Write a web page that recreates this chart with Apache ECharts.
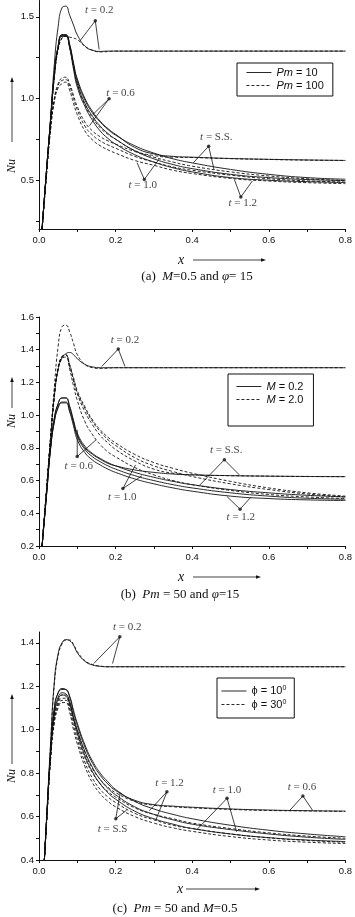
<!DOCTYPE html>
<html><head><meta charset="utf-8">
<script src="https://cdn.jsdelivr.net/npm/echarts@6/dist/echarts.min.js"></script>
<style>html,body{margin:0;padding:0;background:#fff}#c{width:355px;height:917px}</style>
</head><body><div id="c"></div>
<script>
// ---------- data ----------
const X_A = [0.008,0.02,0.03,0.04,0.05,0.06,0.07,0.08,0.09,0.10,0.12,0.14,0.16,0.18,0.20,0.25,0.30,0.35,0.40,0.50,0.60,0.70,0.80];
const X_B = [0.008,0.02,0.03,0.04,0.05,0.06,0.07,0.08,0.09,0.10,0.12,0.14,0.16,0.18,0.20,0.25,0.30,0.35,0.40,0.50,0.60,0.70,0.80];
const X_C = [0.014,0.02,0.03,0.04,0.05,0.06,0.07,0.08,0.09,0.10,0.12,0.14,0.16,0.18,0.20,0.25,0.30,0.35,0.40,0.50,0.60,0.70,0.80];

// panel (a): M=0.5, phi=15 ; solid Pm=10, dashed Pm=100
const A_T02_PM10  = [0.2,0.57,0.87,1.21,1.44,1.555,1.565,1.51,1.45,1.39,1.32,1.295,1.288,1.29,1.29,1.29,1.29,1.29,1.29,1.29,1.29,1.29,1.29];
const A_T02_PM100 = [0.2,0.56,0.85,1.13,1.30,1.37,1.38,1.375,1.37,1.36,1.32,1.295,1.285,1.287,1.29,1.29,1.29,1.29,1.29,1.29,1.29,1.29,1.29];
const A_T06_PM10  = [0.2,0.57,0.86,1.15,1.32,1.39,1.39,1.33,1.21,1.12,1.0,0.92,0.86,0.815,0.78,0.70,0.66,0.645,0.64,0.632,0.627,0.623,0.62];
const A_SS_PM10   = [0.2,0.57,0.86,1.15,1.32,1.39,1.39,1.33,1.22,1.11,0.99,0.91,0.855,0.81,0.775,0.71,0.665,0.63,0.605,0.565,0.535,0.515,0.505];
const A_T10_PM10  = [0.2,0.57,0.86,1.15,1.32,1.385,1.385,1.32,1.2,1.09,0.97,0.89,0.83,0.785,0.75,0.68,0.63,0.595,0.57,0.535,0.515,0.503,0.497];
const A_T12_PM10  = [0.2,0.57,0.86,1.14,1.31,1.38,1.38,1.31,1.18,1.07,0.95,0.865,0.80,0.755,0.72,0.655,0.61,0.575,0.55,0.515,0.499,0.49,0.485];
const A_T06_PM100 = [0.2,0.56,0.85,1.13,1.30,1.37,1.385,1.31,1.19,1.09,0.96,0.88,0.82,0.78,0.75,0.68,0.65,0.64,0.638,0.631,0.626,0.622,0.62];
const A_SS_PM100  = [0.2,0.55,0.82,1.0,1.09,1.125,1.13,1.09,1.02,0.95,0.855,0.80,0.765,0.74,0.72,0.675,0.64,0.61,0.585,0.55,0.525,0.508,0.497];
const A_T10_PM100 = [0.2,0.55,0.81,0.99,1.08,1.11,1.115,1.075,1.0,0.93,0.83,0.775,0.74,0.715,0.695,0.645,0.61,0.58,0.56,0.53,0.508,0.495,0.488];
const A_T12_PM100 = [0.2,0.54,0.80,0.98,1.065,1.09,1.10,1.05,0.97,0.90,0.80,0.745,0.71,0.685,0.665,0.62,0.59,0.56,0.54,0.51,0.494,0.484,0.478];

// panel (b): Pm=50, phi=15 ; solid M=0.2, dashed M=2.0
const B_T02_M02 = [0.2,0.55,0.85,1.12,1.28,1.35,1.375,1.383,1.37,1.345,1.31,1.295,1.29,1.29,1.29,1.29,1.29,1.29,1.29,1.29,1.29,1.29,1.29];
const B_T02_M2  = [0.2,0.55,0.86,1.17,1.42,1.54,1.55,1.51,1.44,1.37,1.31,1.29,1.285,1.287,1.29,1.29,1.29,1.29,1.29,1.29,1.29,1.29,1.29];
const B_T06_M2  = [0.2,0.55,0.85,1.12,1.29,1.355,1.365,1.30,1.21,1.13,1.02,0.94,0.875,0.83,0.79,0.72,0.67,0.645,0.635,0.63,0.627,0.625,0.624];
const B_SS_M2   = [0.2,0.55,0.85,1.12,1.29,1.36,1.37,1.31,1.23,1.15,1.05,0.97,0.91,0.865,0.83,0.76,0.71,0.675,0.645,0.595,0.555,0.525,0.505];
const B_T10_M2  = [0.2,0.55,0.85,1.12,1.29,1.355,1.365,1.305,1.22,1.14,1.04,0.96,0.90,0.85,0.815,0.74,0.69,0.655,0.625,0.58,0.545,0.518,0.50];
const B_T12_M2  = [0.2,0.55,0.84,1.11,1.28,1.345,1.355,1.28,1.18,1.09,0.96,0.88,0.82,0.775,0.745,0.68,0.635,0.60,0.575,0.54,0.515,0.50,0.49];
const B_T06_M02 = [0.2,0.53,0.80,0.98,1.07,1.105,1.105,1.05,0.96,0.88,0.80,0.76,0.73,0.705,0.69,0.665,0.65,0.64,0.635,0.63,0.627,0.625,0.624];
const B_SS_M02  = [0.2,0.53,0.80,0.98,1.07,1.105,1.105,1.055,0.97,0.89,0.81,0.765,0.735,0.71,0.69,0.65,0.62,0.595,0.575,0.545,0.525,0.51,0.50];
const B_T10_M02 = [0.2,0.52,0.79,0.96,1.05,1.08,1.08,1.03,0.95,0.87,0.79,0.745,0.715,0.69,0.67,0.63,0.60,0.575,0.555,0.525,0.505,0.492,0.486];
const B_T12_M02 = [0.2,0.52,0.79,0.96,1.045,1.075,1.075,1.02,0.935,0.85,0.77,0.725,0.695,0.67,0.65,0.61,0.58,0.555,0.535,0.505,0.49,0.482,0.478];

// panel (c): Pm=50, M=0.5 ; solid phi=10, dashed phi=30
const C_T02_P10 = [0.4,0.60,0.93,1.22,1.35,1.40,1.415,1.41,1.39,1.355,1.315,1.298,1.292,1.29,1.29,1.29,1.29,1.29,1.29,1.29,1.29,1.29,1.29];
const C_T02_P30 = [0.4,0.59,0.92,1.21,1.34,1.395,1.412,1.413,1.393,1.36,1.318,1.30,1.293,1.29,1.29,1.29,1.29,1.29,1.29,1.29,1.29,1.29,1.29];
const C_T06_P10 = [0.4,0.59,0.89,1.10,1.17,1.185,1.185,1.15,1.08,1.02,0.92,0.845,0.79,0.75,0.72,0.675,0.655,0.648,0.643,0.635,0.63,0.627,0.625];
const C_SS_P10  = [0.4,0.59,0.89,1.10,1.17,1.19,1.185,1.155,1.09,1.03,0.93,0.855,0.80,0.76,0.725,0.67,0.635,0.61,0.59,0.56,0.537,0.52,0.507];
const C_T10_P10 = [0.4,0.59,0.88,1.08,1.15,1.17,1.165,1.13,1.06,1.0,0.90,0.825,0.77,0.73,0.70,0.645,0.61,0.585,0.565,0.54,0.52,0.505,0.495];
const C_T12_P10 = [0.4,0.59,0.88,1.07,1.14,1.16,1.155,1.12,1.05,0.985,0.88,0.805,0.75,0.71,0.68,0.625,0.59,0.565,0.545,0.52,0.503,0.492,0.485];
const C_T06_P30 = [0.4,0.58,0.87,1.06,1.13,1.16,1.16,1.125,1.055,0.995,0.895,0.82,0.77,0.735,0.71,0.67,0.652,0.645,0.64,0.633,0.628,0.626,0.624];
const C_SS_P30  = [0.4,0.58,0.87,1.05,1.12,1.145,1.145,1.11,1.04,0.975,0.87,0.80,0.75,0.715,0.69,0.64,0.61,0.59,0.57,0.545,0.525,0.51,0.50];
const C_T10_P30 = [0.4,0.58,0.86,1.04,1.11,1.135,1.135,1.095,1.02,0.955,0.85,0.775,0.725,0.69,0.665,0.615,0.585,0.56,0.545,0.52,0.502,0.49,0.482];
const C_T12_P30 = [0.4,0.58,0.86,1.03,1.10,1.125,1.125,1.08,1.0,0.935,0.83,0.755,0.705,0.67,0.645,0.60,0.57,0.548,0.532,0.508,0.492,0.482,0.476];

// tick values
const X_LABELS = [0,0.2,0.4,0.6,0.8];
const X_TICKS = [0,0.1,0.2,0.3,0.4,0.5,0.6,0.7,0.8];
const A_Y_LABELS = [0.5,1.0,1.5];
const A_Y_TICKS = [0.25,0.5,0.75,1.0,1.25,1.5];
const B_Y_LABELS = [0.2,0.4,0.6,0.8,1.0,1.2,1.4,1.6];
const B_Y_TICKS = [0.2,0.3,0.4,0.5,0.6,0.7,0.8,0.9,1.0,1.1,1.2,1.3,1.4,1.5,1.6];
const C_Y_LABELS = [0.4,0.6,0.8,1.0,1.2,1.4];
const C_Y_TICKS = [0.4,0.5,0.6,0.7,0.8,0.9,1.0,1.1,1.2,1.3,1.4];

// annotations (data coordinates)
const A_NOTES = [['t = 0.2',0.157,1.54],['t = 0.6',0.213,1.033],['t = S.S.',0.463,0.765],['t = 1.0',0.271,0.468],['t = 1.2',0.532,0.358]];
const A_ARROWS = [
  [[0.106,1.35],[0.147,1.476],[0.157,1.30]],
  [[0.140,0.90],[0.183,0.998],[0.132,0.833]],
  [[0.403,0.606],[0.443,0.707],[0.457,0.565]],
  [[0.256,0.606],[0.275,0.504],[0.314,0.63]],
  [[0.510,0.504],[0.527,0.396],[0.557,0.494]]
];
const B_NOTES = [['t = 0.2',0.2245,1.457],['t = 0.6',0.104,0.686],['t = S.S.',0.4886,0.788],['t = 1.0',0.2176,0.498],['t = 1.2',0.527,0.379]];
const B_ARROWS = [
  [[0.164,1.298],[0.207,1.404],[0.2245,1.298]],
  [[0.0998,0.91],[0.0998,0.747],[0.149,0.849]],
  [[0.42,0.573],[0.484,0.727],[0.523,0.635]],
  [[0.252,0.696],[0.219,0.551],[0.269,0.63]],
  [[0.491,0.502],[0.525,0.425],[0.553,0.498]]
];
const C_NOTES = [['t = 0.2',0.2305,1.471],['t = 1.2',0.341,0.756],['t = 1.0',0.491,0.722],['t = 0.6',0.6865,0.734],['t = S.S',0.192,0.541]];
const C_ARROWS = [
  [[0.143,1.305],[0.211,1.428],[0.192,1.305]],
  [[0.288,0.627],[0.334,0.714],[0.305,0.584]],
  [[0.411,0.538],[0.491,0.684],[0.516,0.53]],
  [[0.654,0.627],[0.689,0.695],[0.715,0.627]],
  [[0.212,0.71],[0.2005,0.59],[0.229,0.63]]
];

// ---------- chart ----------
const SANS = '"Liberation Sans", Arial, sans-serif';
const SERIF = '"Liberation Serif", "Times New Roman", serif';
const INK = '#111';
const zip = (xs, ys) => xs.map((x, i) => [x, ys[i]]);

const panels = [
  { x: X_A, yMin: 0.2, yMax: 1.6, yLabels: A_Y_LABELS, yTicks: A_Y_TICKS, grid: {left: 39, right: 6, top: 0.5, bottom: 688},
    names: ['Pm = 10', 'Pm = 100'],
    curves: [[A_T02_PM10,0],[A_T02_PM100,1],[A_T06_PM10,0],[A_SS_PM10,0],[A_T10_PM10,0],[A_T12_PM10,0],[A_T06_PM100,1],[A_SS_PM100,1],[A_T10_PM100,1],[A_T12_PM100,1]],
    notes: A_NOTES, arrows: A_ARROWS,
    legend: {left: 237, top: 63, padding: [4, 9, 5, 9]} },
  { x: X_B, yMin: 0.2, yMax: 1.6, yLabels: B_Y_LABELS, yTicks: B_Y_TICKS, grid: {left: 39, right: 6, top: 317, bottom: 371},
    names: ['M = 0.2', 'M = 2.0'],
    curves: [[B_T02_M02,0],[B_T02_M2,1],[B_T06_M02,0],[B_SS_M02,0],[B_T10_M02,0],[B_T12_M02,0],[B_T06_M2,1],[B_SS_M2,1],[B_T10_M2,1],[B_T12_M2,1]],
    notes: B_NOTES, arrows: B_ARROWS,
    legend: {left: 228, top: 374, padding: [7, 10, 21, 8]} },
  { x: X_C, yMin: 0.4, yMax: 1.45, yLabels: C_Y_LABELS, yTicks: C_Y_TICKS, grid: {left: 39, right: 6, top: 632, bottom: 57},
    names: ['ϕ = 10', 'ϕ = 30'],
    curves: [[C_T02_P10,0],[C_T02_P30,1],[C_T06_P10,0],[C_SS_P10,0],[C_T10_P10,0],[C_T12_P10,0],[C_T06_P30,1],[C_SS_P30,1],[C_T10_P30,1],[C_T12_P30,1]],
    notes: C_NOTES, arrows: C_ARROWS,
    legend: {left: 217, top: 678, padding: [7, 8, 8, 4]} }
];

function legendFmt(name) {
  const parts = name.split(' = ');
  if (parts[0] === 'ϕ') return '{n|ϕ = ' + parts[1] + '}{s|0}';
  return '{i|' + parts[0] + '}{n| = ' + parts[1] + '}';
}

const grids = [], xAxes = [], yAxes = [], series = [], legends = [];
panels.forEach((p, gi) => {
  grids.push(Object.assign({containLabel: false}, p.grid));
  xAxes.push({
    type: 'value', gridIndex: gi, min: 0, max: 0.8,
    axisLine: {show: true, onZero: false, lineStyle: {color: INK, width: 1}},
    axisTick: {show: true, length: 3, customValues: X_TICKS, lineStyle: {color: INK, width: 1}},
    axisLabel: {customValues: X_LABELS, formatter: v => v.toFixed(1), margin: 6, fontSize: 9.5, fontFamily: SANS, color: INK},
    splitLine: {show: false}
  });
  yAxes.push({
    type: 'value', gridIndex: gi, min: p.yMin, max: p.yMax,
    axisLine: {show: true, onZero: false, lineStyle: {color: INK, width: 1}},
    axisTick: {show: true, length: 3, customValues: p.yTicks, lineStyle: {color: INK, width: 1}},
    axisLabel: {customValues: p.yLabels, formatter: v => v.toFixed(1), margin: 5, fontSize: 9.5, fontFamily: SANS, color: INK},
    splitLine: {show: false}
  });
  p.curves.forEach(([ys, dashed]) => {
    series.push({
      type: 'line', name: p.names[dashed], xAxisIndex: gi, yAxisIndex: gi,
      data: zip(p.x, ys), symbol: 'none', showSymbol: false,
      smooth: 0.5, clip: true, silent: true,
      lineStyle: {color: INK, width: 0.9, type: dashed ? [3, 2] : 'solid'},
      itemStyle: {color: INK}, z: 2
    });
  });
  p.arrows.forEach(a => {
    series.push({type: 'line', xAxisIndex: gi, yAxisIndex: gi, data: a, symbol: 'none', clip: false,
      lineStyle: {color: INK, width: 0.8}, silent: true, z: 3});
  });
  series.push({type: 'scatter', xAxisIndex: gi, yAxisIndex: gi, data: p.arrows.map(a => a[1]), clip: false,
    symbol: 'circle', symbolSize: 3.5, itemStyle: {color: INK}, silent: true, z: 4});
  series.push({type: 'scatter', xAxisIndex: gi, yAxisIndex: gi, clip: false,
    data: p.notes.map(n => ({name: n[0], value: [n[1], n[2]]})),
    symbolSize: 0, silent: true, z: 5,
    label: {show: true, position: [0, 0], align: 'center', verticalAlign: 'middle',
      formatter: q => '{i|t}{n| = ' + q.name.slice(4) + '}',
      rich: {i: {fontFamily: SERIF, fontStyle: 'italic', fontSize: 11, color: INK},
             n: {fontFamily: SERIF, fontSize: 11, color: INK}}}
  });
  legends.push(Object.assign({
    orient: 'vertical', data: p.names, itemWidth: 25, itemHeight: 10, itemGap: 2,
    borderColor: INK, borderWidth: 1, borderRadius: 0, selectedMode: false,
    itemStyle: {opacity: 0, borderWidth: 0},
    lineStyle: {width: 0.9, color: INK},
    formatter: legendFmt,
    textStyle: {fontSize: 11, fontFamily: SANS, color: INK,
      rich: {i: {fontStyle: 'italic', fontSize: 11, fontFamily: SANS, color: INK, lineHeight: 12},
             n: {fontSize: 11, fontFamily: SANS, color: INK, lineHeight: 12},
             s: {fontSize: 7, fontFamily: SANS, color: INK, verticalAlign: 'top', lineHeight: 7}}}
  }, p.legend));
});

// axis titles and captions
const graphics = [];
function arrowUp(x, yBottom, yTop) {
  graphics.push({type: 'line', shape: {x1: x, y1: yBottom, x2: x, y2: yTop + 3}, style: {stroke: INK, lineWidth: 0.8}, silent: true});
  graphics.push({type: 'polygon', shape: {points: [[x, yTop], [x - 1.8, yTop + 5], [x + 1.8, yTop + 5]]}, style: {fill: INK}, silent: true});
}
function arrowRight(xLeft, xRight, y) {
  graphics.push({type: 'line', shape: {x1: xLeft, y1: y, x2: xRight - 3, y2: y}, style: {stroke: INK, lineWidth: 0.8}, silent: true});
  graphics.push({type: 'polygon', shape: {points: [[xRight, y], [xRight - 5, y - 1.8], [xRight - 5, y + 1.8]]}, style: {fill: INK}, silent: true});
}
function textAt(x, y, text, size, rot) {
  graphics.push({type: 'text', x: x, y: y, rotation: rot || 0, silent: true,
    style: {text: text, fontSize: size, fontFamily: SERIF, fill: INK, align: 'center', verticalAlign: 'middle',
      rich: {i: {fontStyle: 'italic', fontSize: size, fontFamily: SERIF, fill: INK}}}});
}
// panel a
textAt(12, 166, '{i|Nu}', 12, Math.PI / 2); arrowUp(12, 142, 77);
textAt(181, 260, '{i|x}', 14); arrowRight(193, 266, 260);
textAt(197, 277, '(a)  {i|M}=0.5 and {i|φ}= 15', 13);
// panel b
textAt(12, 421, '{i|Nu}', 12, Math.PI / 2); arrowUp(12, 408, 377);
textAt(181, 577, '{i|x}', 14); arrowRight(193, 261, 577);
textAt(180, 595, '(b)  {i|Pm} = 50 and {i|φ}=15', 13);
// panel c
textAt(12, 776, '{i|Nu}', 12, Math.PI / 2); arrowUp(12, 764, 694);
textAt(180, 889, '{i|x}', 14); arrowRight(186, 260, 889);
textAt(175, 909, '(c)  {i|Pm} = 50 and {i|M}=0.5', 13);

const chart = echarts.init(document.getElementById('c'), null, {renderer: 'canvas'});
chart.setOption({
  animation: false,
  backgroundColor: '#fff',
  grid: grids, xAxis: xAxes, yAxis: yAxes,
  legend: legends, series: series, graphic: graphics
});
</script></body></html>
